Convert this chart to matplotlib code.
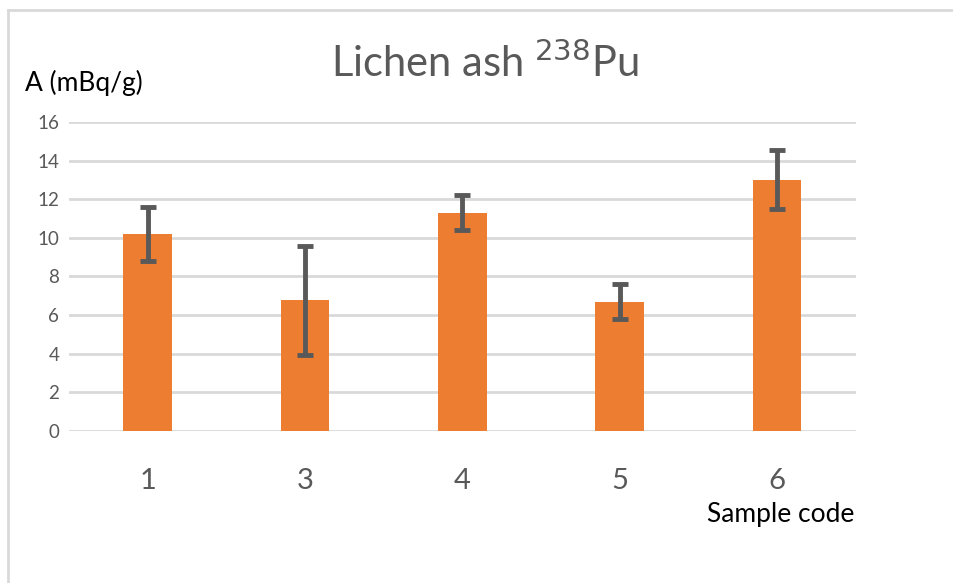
import matplotlib
matplotlib.use("Agg")
import matplotlib.pyplot as plt
from matplotlib.lines import Line2D

# Data
samples = ["1", "3", "4", "5", "6"]
activity = [10.2, 6.75, 11.3, 6.68, 13.0]
errors = [1.39, 2.8, 0.9, 0.9, 1.53]
yticks = [0, 2, 4, 6, 8, 10, 12, 14, 16]

plt.rcParams['font.family'] = ['Lato', 'DejaVu Sans']

fig = plt.figure(figsize=(9.54, 5.83), dpi=100)
ax = fig.add_axes([0.0723, 0.2612, 0.8247, 0.5295])

x = range(len(samples))
ax.bar(x, activity, width=0.31, color='#ED7D31', zorder=3)
ax.errorbar(x, activity, yerr=errors, fmt='none', ecolor='#595959',
            elinewidth=3.5, capsize=5.5, capthick=3.5, zorder=4)

ax.set_xlim(-0.5, len(samples) - 0.5)
ax.set_ylim(0, 16)
ax.set_yticks(yticks)
ax.set_xticks(list(x))
ax.set_xticklabels(samples)
ax.grid(axis='y', color='#D9D9D9', linewidth=2, zorder=0)
for s in ax.spines.values():
    s.set_visible(False)
ax.tick_params(axis='both', length=0, colors='#595959')
ax.tick_params(axis='y', labelsize=13.5, pad=7)
ax.tick_params(axis='x', labelsize=21, pad=27)

# titles and axis captions
fig.text(0.508, 0.893, 'Lichen ash $^{238}$Pu', ha='center', va='center',
         fontsize=30, color='#595959')
fig.text(0.026, 0.858, 'A (mBq/g)', ha='left', va='center', fontsize=19,
         color='black')
fig.text(0.896, 0.118, 'Sample code', ha='right', va='center', fontsize=19,
         color='black')

# outer chart border
fig.add_artist(Line2D([0.008, 1.0], [0.983, 0.983], transform=fig.transFigure,
                      color='#D9D9D9', linewidth=2))
fig.add_artist(Line2D([0.008, 0.008], [0.0, 0.983], transform=fig.transFigure,
                      color='#D9D9D9', linewidth=2))

fig.savefig('out.png', dpi=100)
